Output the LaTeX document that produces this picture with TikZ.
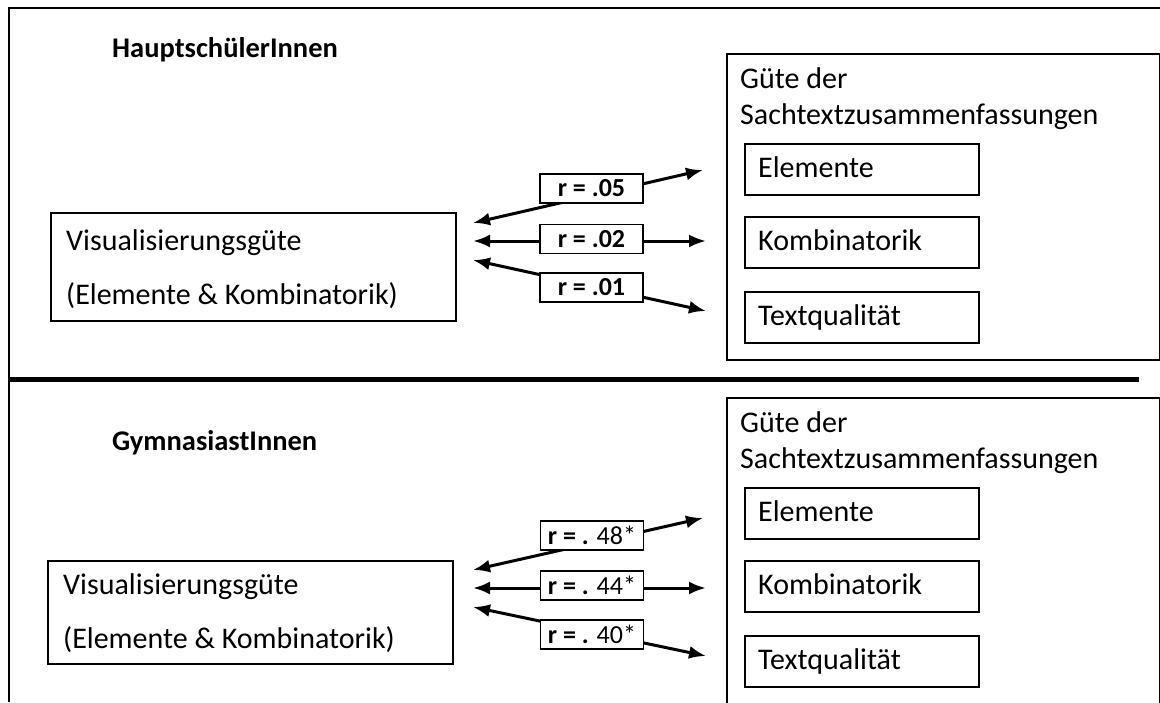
\documentclass[tikz,border=0pt]{standalone}
\usepackage{fontspec}
\setmainfont{Carlito}
\usetikzlibrary{arrows.meta}
\begin{document}
\begin{tikzpicture}[x=1pt,y=-1pt,
  frame/.style={line width=1.5pt},
  bigbox/.style={draw, line width=1.6pt, anchor=north west, inner sep=0pt},
  subbox/.style={draw, line width=2.2pt, anchor=north west, minimum width=234pt, minimum height=51pt, inner sep=0pt},
  txt/.style={anchor=base west, inner sep=0pt, font=\fontsize{30}{32}\selectfont},
  head/.style={anchor=base west, inner sep=0pt, font=\fontsize{28.5}{30}\selectfont\bfseries},
  rlab/.style={draw, fill=white, line width=1.4pt, minimum width=103pt, minimum height=29pt, inner sep=0pt, font=\fontsize{26}{27}\selectfont},
  dbl/.style={line width=3pt, {Latex[length=17pt,width=13pt]}-{Latex[length=17pt,width=13pt]}}
]
\useasboundingbox (0,0) rectangle (1160,702);
% outer frame and separator
\coordinate (fbl) at (9,702);
\coordinate (ftl) at (9,8);
\coordinate (ftr) at (1160,8);
\draw[frame] (fbl) -- (ftl) -- (ftr);
\coordinate (sepl) at (9,379);
\coordinate (sepr) at (1139,379);
\draw[line width=5pt] (sepl) -- (sepr);

% ===== top section =====
\node[head] (h1) at (112,57) {HauptschülerInnen};
\node[bigbox, minimum width=433pt, minimum height=306pt] (R1) at (726,53) {};
\node[txt] (g1a) at (740,88) {Güte der};
\node[txt] (g1b) at (740,124) {Sachtextzusammenfassungen};
\node[subbox] (e1) at (744,143) {};
\node[subbox] (k1) at (744,216) {};
\node[subbox] (t1) at (744,291) {};
\node[txt] at (758,177) {Elemente};
\node[txt] at (758,250) {Kombinatorik};
\node[txt] at (758,325) {Textqualität};
\node[bigbox, line width=2.2pt, minimum width=405pt, minimum height=108pt] (V1) at (50,212) {};
\node[txt] at (66,250) {Visualisierungsgüte};
\node[txt] at (66,304) {(Elemente \& Kombinatorik)};

\coordinate (a1l) at (473,223); \coordinate (a1r) at (703,170);
\coordinate (a2l) at (473,241); \coordinate (a2r) at (706,241);
\coordinate (a3l) at (473,260); \coordinate (a3r) at (706,311);
\draw[dbl] (a1l) -- (a1r);
\draw[dbl] (a2l) -- (a2r);
\draw[dbl] (a3l) -- (a3r);
\node[rlab] (l1) at (591.5,188.5) {\textbf{r = .05}};
\node[rlab] (l2) at (591.5,239) {\textbf{r = .02}};
\node[rlab] (l3) at (591.5,287.5) {\textbf{r = .01}};

% ===== bottom section =====
\node[head] (h2) at (112,450) {GymnasiastInnen};
\node[bigbox, minimum width=433pt, minimum height=310pt] (R2) at (726,397) {};
\node[txt] (g2a) at (740,432) {Güte der};
\node[txt] (g2b) at (740,468) {Sachtextzusammenfassungen};
\node[subbox] (e2) at (744,487) {};
\node[subbox] (k2) at (744,560) {};
\node[subbox] (t2) at (744,635) {};
\node[txt] at (758,521) {Elemente};
\node[txt] at (758,594) {Kombinatorik};
\node[txt] at (758,669) {Textqualität};
\node[bigbox, line width=2.2pt, minimum width=405pt, minimum height=103pt] (V2) at (47,560) {};
\node[txt] at (63,594) {Visualisierungsgüte};
\node[txt] at (63,648) {(Elemente \& Kombinatorik)};

\coordinate (b1l) at (473,570); \coordinate (b1r) at (703,518);
\coordinate (b2l) at (473,588); \coordinate (b2r) at (706,588);
\coordinate (b3l) at (473,607); \coordinate (b3r) at (706,656);
\draw[dbl] (b1l) -- (b1r);
\draw[dbl] (b2l) -- (b2r);
\draw[dbl] (b3l) -- (b3r);
\node[rlab] (m1) at (592,535.5) {\textbf{r = .} 48*};
\node[rlab] (m2) at (592,585.5) {\textbf{r = .} 44*};
\node[rlab] (m3) at (592,634.5) {\textbf{r = .} 40*};
\end{tikzpicture}
\end{document}
